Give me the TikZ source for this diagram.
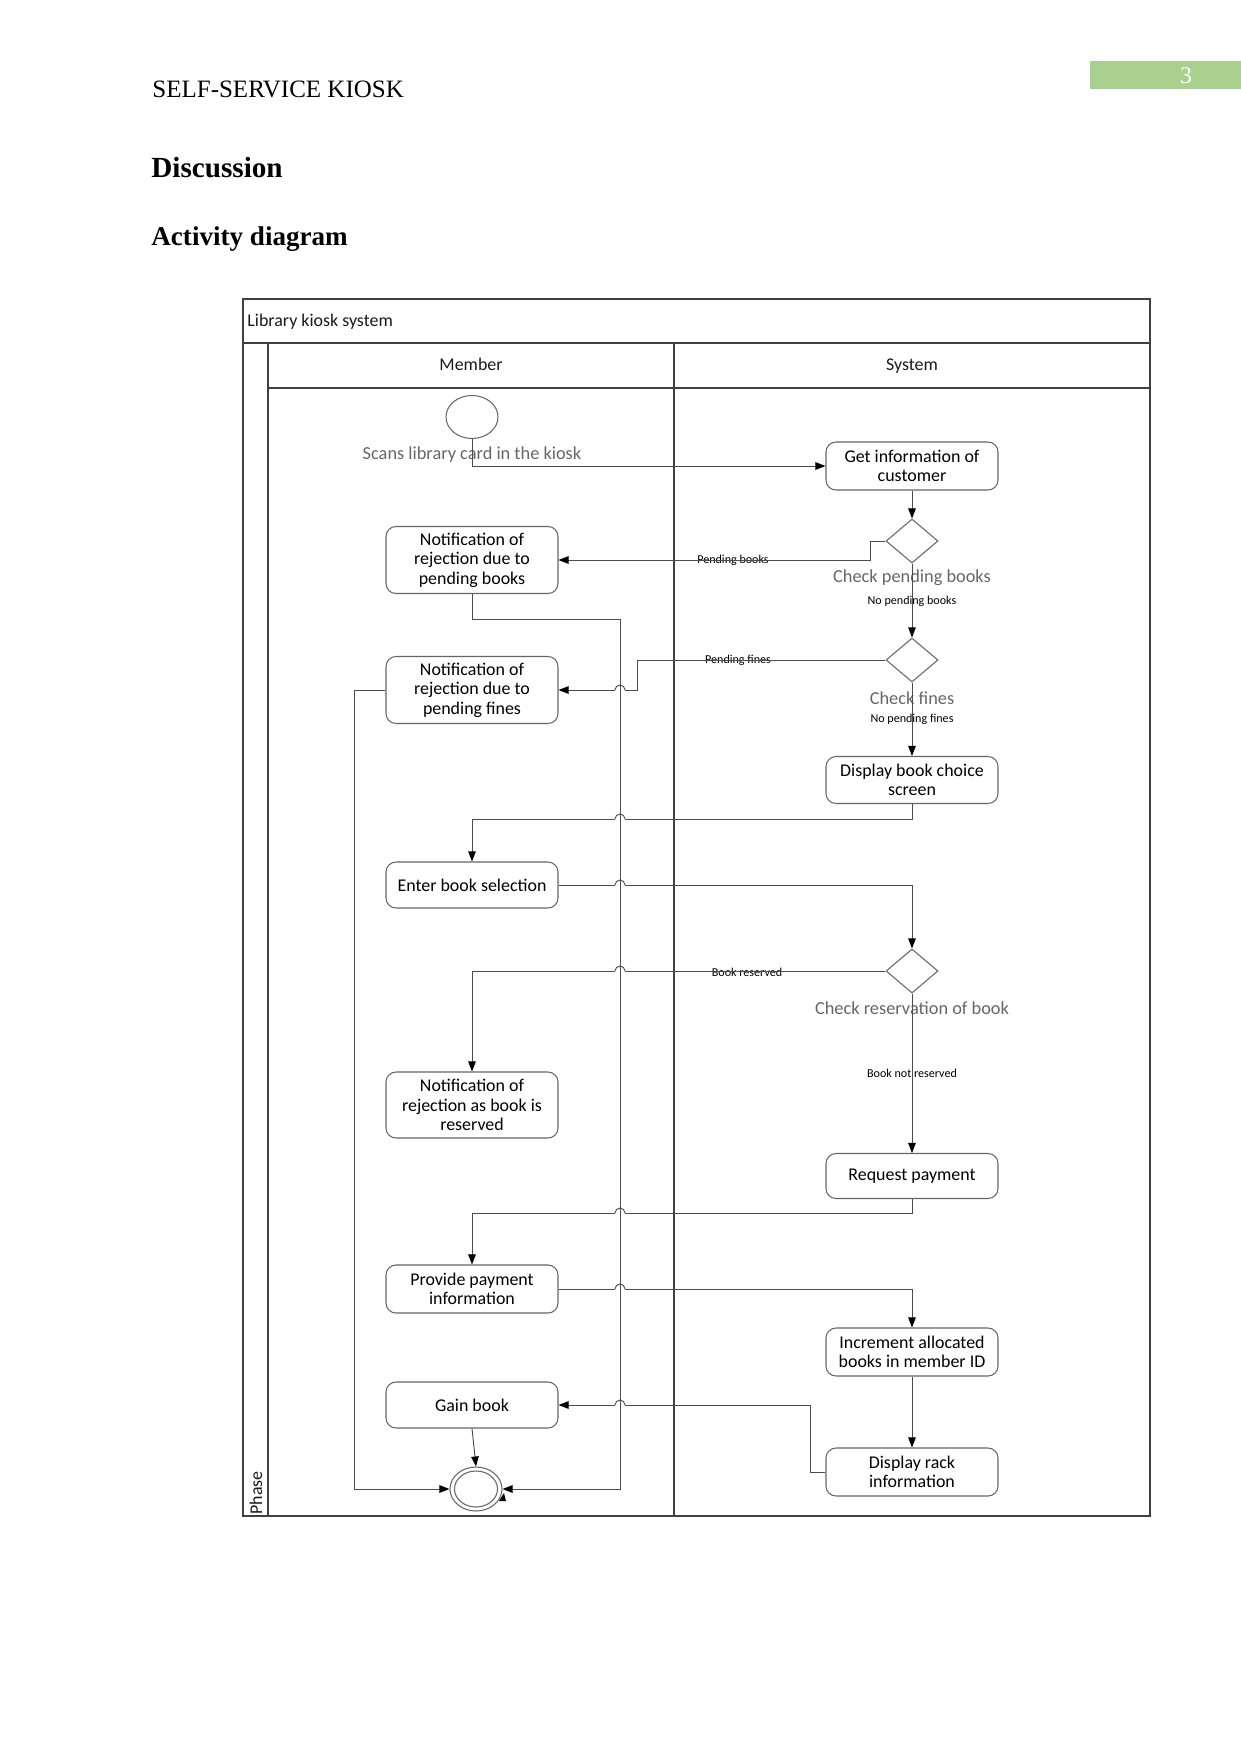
\documentclass[tikz,border=0pt]{standalone}
\usepackage{fontspec}
\setmainfont{Liberation Serif}
\newfontfamily\dfont{Carlito}
\usetikzlibrary{shapes.geometric,arrows.meta}
\def\upx{0.48pt}
\definecolor{pagegreen}{HTML}{A9D08E}
\begin{document}
\begin{tikzpicture}[x=\upx,y=-\upx,
  actbox/.style={draw=black!60, line width=0.5pt, rounded corners=4.8pt,
    minimum width=172*\upx, align=center, inner sep=1pt,
    font=\dfont\fontsize{8.6}{9.4}\selectfont, text=black},
  decbox/.style={diamond, draw=black!60, line width=0.5pt,
    minimum width=52*\upx, minimum height=44*\upx, inner sep=0pt},
  conn/.style={draw=black!70, line width=0.45pt,
    -{Triangle[length=4.8pt,width=3.6pt,color=black]}},
  plainconn/.style={draw=black!70, line width=0.45pt},
  guard/.style={font=\dfont\fontsize{5.8}{6.5}\selectfont, inner sep=0pt, text=black},
  declabel/.style={font=\dfont\fontsize{8.8}{10}\selectfont, inner sep=0pt, text=black!60},
  framel/.style={draw=black!75, line width=0.8pt},
  lanel/.style={draw=black!75, line width=0.6pt},
  headtxt/.style={font=\dfont\fontsize{8.6}{10}\selectfont, inner sep=0pt, text=black!90}
]
\useasboundingbox (0,0) rectangle (1241,1754);

% page header
\node[anchor=base west, inner sep=0pt, font=\fontsize{12}{14}\selectfont] (runhead) at (152,97) {SELF-SERVICE KIOSK};
\fill[pagegreen] (1090,61) rectangle (1241,89);
\node[anchor=base, inner sep=0pt, text=white, font=\fontsize{11.5}{13}\selectfont] (pagenum) at (1186,83) {3};
\node[anchor=base west, inner sep=0pt, font=\bfseries\fontsize{14}{16}\selectfont] (disc) at (151,177) {Discussion};
\node[anchor=base west, inner sep=0pt, font=\bfseries\fontsize{13}{15}\selectfont] (actd) at (151,245) {Activity diagram};

% frame and lanes
\draw[framel] (243,299) rectangle (1150,1516);
\draw[framel] (243,343) -- (1150,343);
\draw[lanel] (268,343) -- (268,1516);
\draw[lanel] (268,388) -- (1150,388);
\draw[lanel] (674,343) -- (674,1516);
\node[headtxt, anchor=base west] (title) at (247,326) {Library kiosk system};
\node[headtxt, anchor=base] (member) at (471,370) {Member};
\node[headtxt, anchor=base] (system) at (912,370) {System};
\node[headtxt, rotate=90] (phase) at (256,1493) {Phase};

% nodes
\node[ellipse, draw=black!60, line width=0.5pt, minimum width=52*\upx, minimum height=43*\upx, inner sep=0pt] (start) at (472,417) {};
\node[actbox, minimum height=48*\upx] (getinfo) at (912,466) {Get information of\\customer};
\node[decbox] (d1) at (912,541) {};
\node[actbox, minimum height=67*\upx] (notif1) at (472,560) {Notification of\\rejection due to\\pending books};
\node[decbox] (d2) at (912,660) {};
\node[actbox, minimum height=67*\upx] (notif2) at (472,690) {Notification of\\rejection due to\\pending fines};
\node[actbox, minimum height=47*\upx] (display) at (912,780) {Display book choice\\screen};
\node[actbox, minimum height=46*\upx] (enter) at (472,885) {Enter book selection};
\node[decbox] (d3) at (912,971) {};
\node[actbox, minimum height=66*\upx] (notif3) at (472,1105) {Notification of\\rejection as book is\\reserved};
\node[actbox, minimum height=45*\upx] (request) at (912,1176) {Request payment};
\node[actbox, minimum height=48*\upx] (provide) at (472,1289) {Provide payment\\information};
\node[actbox, minimum height=48*\upx] (increment) at (912,1352) {Increment allocated\\books in member ID};
\node[actbox, minimum height=46*\upx] (gain) at (472,1405) {Gain book};
\node[actbox, minimum height=48*\upx] (rack) at (912,1472) {Display rack\\information};
\node[ellipse, draw=black!60, line width=0.5pt, minimum width=52*\upx, minimum height=44*\upx, inner sep=0pt] (final) at (476,1489) {};
\node[ellipse, draw=black!60, line width=0.5pt, minimum width=43*\upx, minimum height=36*\upx, inner sep=0pt] (finalin) at (476,1489) {};

% labels
\node[declabel] (lscan) at (472,455) {Scans library card in the kiosk};
\node[declabel] (lcpb) at (912,578) {Check pending books};
\node[declabel] (lcf) at (912,698) {Check fines};
\node[declabel] (lcr) at (912,1008) {Check reservation of book};
\node[guard] (gpb) at (733,560) {Pending books};
\node[guard] (gnpb) at (912,601) {No pending books};
\node[guard] (gpf) at (738,660) {Pending fines};
\node[guard] (gnpf) at (912,719) {No pending fines};
\node[guard] (gbr) at (747,972) {Book reserved};
\node[guard] (gbnr) at (912,1073) {Book not reserved};

% connectors
\draw[conn] (start.south) |- (getinfo.west);
\draw[conn] (getinfo.south) -- (d1.north);
\draw[conn] (d1.west) -- (870,541) |- (notif1.east);
\draw[conn] (d1.south) -- (d2.north);
\draw[conn] (d2.west) -- (637,660) |- (notif2.east);
\draw[conn] (d2.south) -- (display.north);
\draw[conn] (display.south) -- (912,819) -| (enter.north);
\draw[conn] (enter.east) -| (d3.north);
\draw[conn] (d3.west) -| (notif3.north);
\draw[conn] (d3.south) -- (request.north);
\draw[conn] (request.south) -- (912,1213) -| (provide.north);
\draw[conn] (provide.east) -| (increment.north);
\draw[conn] (increment.south) -- (rack.north);
\draw[conn] (rack.west) -- (810,1472) |- (gain.east);
\draw[conn] (gain.south) -- (final.north);
\draw[conn] (notif2.west) -| (354,1489) -- (final.west);

% line hops over the long vertical at x=620
\foreach \yy in {690,819,885,971,1213,1289,1405}{
  \fill[white] (615,\yy-1.6) rectangle (625,\yy+1.6);
}
\draw[conn] (notif1.south) -- (472,619) -| (620,1489) -- (final.east);
\foreach \yy in {690,819,885,971,1213,1289,1405}{
  \draw[plainconn] (615,\yy) arc[start angle=180, end angle=0, radius=2.4pt];
}
\fill[black] (499,1501) -- (506,1501) -- (504,1493) -- cycle;
\end{tikzpicture}
\end{document}
